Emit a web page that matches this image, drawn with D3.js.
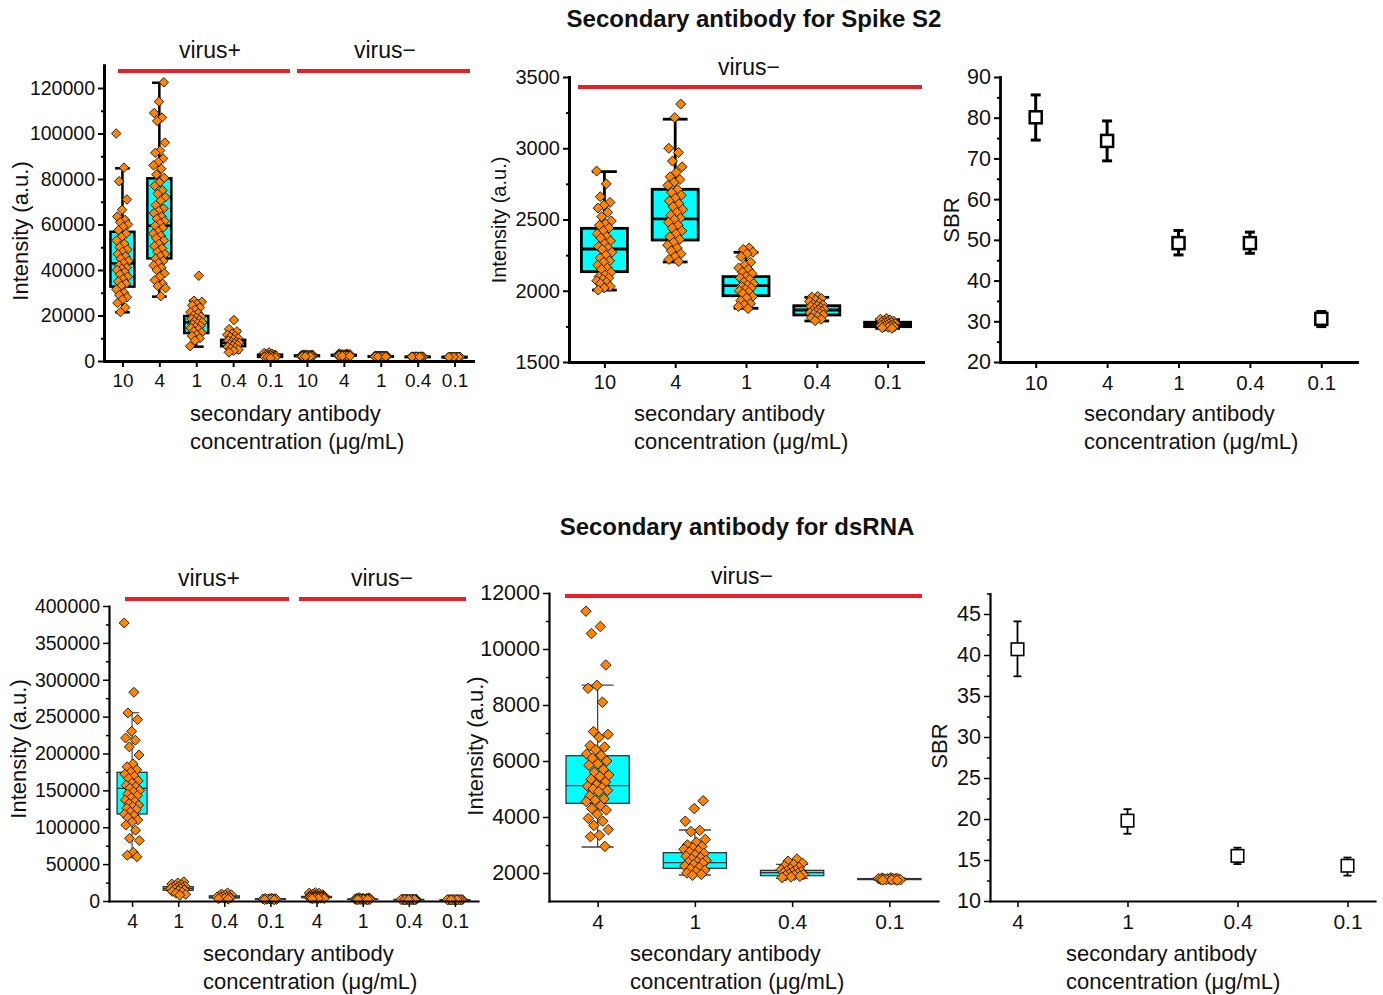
<!DOCTYPE html>
<html><head><meta charset="utf-8">
<script src="https://cdn.jsdelivr.net/npm/d3@7"></script>
<style>
body{margin:0;background:#fff}
svg{display:block}
text{font-family:"Liberation Sans",Arial,Helvetica,sans-serif;fill:#111}
</style>
</head><body>
<svg id="c" width="1383" height="995"></svg>
<script>
// ---------------- DATA ----------------
const spikeCats = ["10", "4", "1", "0.4", "0.1"];
const dsCats = ["4", "1", "0.4", "0.1"];

// Spike S2, virus+ (intensity, a.u.)
const spikePos10 = [100000, 85000, 79000, 71000, 66500, 63500, 62000, 61000, 60000, 59000, 57500, 56000, 54500, 53000, 51500, 50000, 49000, 48000, 47000, 46000, 45000, 44000, 43000, 42000, 41000, 40500, 40000, 39000, 38000, 37000, 36000, 35000, 34000, 33000, 31500, 30000, 29000, 28000, 27000, 25500, 23500, 21500];
const spikePos4 = [122500, 114000, 109000, 107000, 105500, 96000, 92500, 91500, 89000, 87500, 86000, 84500, 82000, 80500, 78500, 77000, 75000, 73500, 72000, 70500, 68500, 67000, 66000, 65000, 63500, 62500, 61500, 60500, 59500, 58500, 57000, 56000, 55000, 54000, 53000, 51500, 50500, 49500, 48000, 47000, 46000, 45000, 44000, 43000, 42000, 41000, 40000, 38500, 37000, 35500, 34000, 33000, 32000, 28500];
const spikePos1 = [37500, 26500, 26000, 25000, 24500, 23500, 22500, 21500, 21000, 20000, 19500, 19000, 18500, 18000, 17500, 17000, 16500, 16000, 15500, 15000, 14500, 14000, 13000, 12500, 11500, 11000, 10000, 9000, 6500];
const spikePos04 = [18000, 14000, 13000, 12000, 11500, 11000, 10500, 10000, 9500, 9000, 8500, 8200, 8000, 7700, 7400, 7000, 6600, 6200, 5800, 5400, 5000, 4500, 3800];
const spikePos01 = [3800, 3500, 3200, 3000, 2800, 2700, 2600, 2500, 2400, 2300, 2200, 2100, 2000, 1900, 1800, 1700, 1600, 1500, 1300];

// Spike S2, virus-
const spikeNeg10 = [2840, 2750, 2660, 2620, 2600, 2580, 2550, 2520, 2490, 2470, 2460, 2440, 2420, 2400, 2380, 2370, 2350, 2330, 2310, 2300, 2290, 2270, 2250, 2230, 2210, 2200, 2180, 2160, 2150, 2130, 2110, 2100, 2090, 2080, 2070, 2060, 2050, 2030, 2020, 2005];
const spikeNeg4 = [3310, 3215, 3000, 2970, 2910, 2870, 2830, 2800, 2780, 2760, 2740, 2710, 2690, 2670, 2650, 2630, 2610, 2590, 2570, 2550, 2530, 2510, 2500, 2480, 2460, 2440, 2420, 2400, 2380, 2360, 2340, 2320, 2300, 2280, 2260, 2240, 2220, 2205];
const spikeNeg1 = [2300, 2290, 2270, 2260, 2240, 2200, 2180, 2160, 2150, 2130, 2120, 2100, 2090, 2080, 2060, 2050, 2040, 2030, 2020, 2010, 2000, 1990, 1980, 1960, 1950, 1930, 1910, 1900, 1890, 1875];
const spikeNeg04 = [1960, 1955, 1945, 1935, 1925, 1915, 1905, 1900, 1895, 1890, 1880, 1875, 1870, 1865, 1860, 1855, 1850, 1845, 1840, 1835, 1830, 1820, 1810, 1800, 1790];
const spikeNeg01 = [1805, 1800, 1795, 1790, 1787, 1783, 1780, 1777, 1774, 1770, 1767, 1764, 1761, 1758, 1755, 1752, 1749, 1746, 1743, 1740, 1736];

// Box statistics
const spikePosQ1 = [32700, 45100, 12300, 6500, 1800];
const spikePosMed = [42900, 59500, 17000, 8000, 2200];
const spikePosQ3 = [56800, 80300, 19800, 9300, 2800];
const spikePosLo = [21400, 28300, 6300, 3800, 1300];
const spikePosHi = [84700, 122300, 26500, 13500, 3800];

const spikeNegQ1 = [2134, 2356, 1965, 1830, 1748];
const spikeNegMed = [2293, 2504, 2036, 1865, 1762];
const spikeNegQ3 = [2438, 2712, 2099, 1895, 1779];
const spikeNegLo = [2005, 2202, 1877, 1788, 1736];
const spikeNegHi = [2836, 3204, 2270, 1954, 1797];

// dsRNA, virus+
const dsPos4 = [377000, 283000, 255000, 246000, 230000, 221000, 218000, 209000, 198000, 186000, 182000, 178000, 175000, 172000, 169000, 166000, 163000, 160000, 157000, 155000, 153000, 150000, 148000, 145000, 143000, 140000, 137000, 135000, 132000, 130000, 128000, 126000, 124000, 121000, 118000, 116000, 113000, 110000, 107000, 103000, 96000, 85000, 82000, 66000, 62000, 60000];
const dsPos1 = [26000, 24500, 23000, 22000, 21000, 20000, 19500, 19000, 18000, 17500, 17000, 16500, 16000, 15000, 14000, 13000, 12000, 10500, 9000, 8000];
const dsPos04 = [11000, 9500, 8500, 8000, 7000, 6500, 6000, 5500, 5000, 4500, 4000, 3500, 3000, 2500];
const dsPos01 = [4000, 3600, 3300, 3000, 2800, 2600, 2400, 2200, 2000, 1800, 1600];

// dsRNA, virus-
const dsNeg4 = [11350, 10800, 10550, 9430, 8700, 8600, 8100, 7050, 6950, 6850, 6550, 6500, 6400, 6250, 6200, 6100, 6000, 5900, 5850, 5700, 5600, 5500, 5450, 5350, 5250, 5150, 5100, 5050, 5000, 4950, 4900, 4750, 4650, 4600, 4550, 4400, 4300, 4250, 4100, 3950, 3850, 3700, 3550, 3350, 3300, 2950];
const dsNeg1 = [4580, 4300, 3850, 3520, 3480, 3200, 3100, 3000, 2950, 2900, 2850, 2800, 2750, 2700, 2650, 2600, 2550, 2500, 2450, 2400, 2380, 2350, 2300, 2250, 2200, 2150, 2100, 2050, 2000, 1950, 1920];
const dsNeg04 = [2500, 2420, 2350, 2300, 2250, 2200, 2150, 2120, 2100, 2070, 2050, 2020, 2000, 1980, 1960, 1940, 1920, 1900, 1880, 1860, 1840];
const dsNeg01 = [1830, 1820, 1812, 1805, 1800, 1795, 1790, 1785, 1780, 1775, 1770, 1765, 1760, 1755, 1750, 1745];

const dsPosQ1 = [118000, 14500, 4000, 2000];
const dsPosMed = [152800, 17000, 5500, 2500];
const dsPosQ3 = [174500, 19500, 7000, 3000];
const dsPosLo = [58700, 9000, 2500, 1600];
const dsPosHi = [255300, 24500, 10000, 3800];

const dsNegQ1 = [4489, 2167, 1905, 1765];
const dsNegMed = [5118, 2369, 2011, 1780];
const dsNegQ3 = [6189, 2726, 2095, 1800];
const dsNegLo = [2928, 1929, 1810, 1745];
const dsNegHi = [8713, 3536, 2311, 1825];

// SBR
const spikeSBR = [80.1, 74.3, 49.2, 49.2, 30.6];
const spikeSBRLo = [74.5, 69.4, 46.3, 46.7, 28.7];
const spikeSBRHi = [85.6, 79.2, 52.3, 51.9, 32.4];
const dsSBR = [40.7, 19.8, 15.5, 14.3];
const dsSBRLo = [37.4, 18.2, 14.5, 13.1];
const dsSBRHi = [44.1, 21.2, 16.5, 15.3];

// tick values
const spikePosTicks = d3.range(0, 120001, 20000);
const spikeNegTicks = d3.range(1500, 3501, 500);
const spikeSBRTicks = d3.range(20, 91, 10);
const dsPosTicks = d3.range(0, 400001, 50000);
const dsNegTicks = d3.range(2000, 12001, 2000);
const dsSBRTicks = d3.range(10, 46, 5);

// ---------------- DRAW ----------------
const svg = d3.select("#c");
const RED = "#e8202a", CYAN = "#00ffff", ORANGE = "#ff8400";

function groupsFrom(pointsList, q1, med, q3, lo, hi) {
  return pointsList.map((pts, i) => ({pts, q1: q1[i], med: med[i], q3: q3[i], lo: lo[i], hi: hi[i]}));
}

function axes(g, x, y, p) {
  const ya = g.append("g").attr("transform", `translate(${p.xr[0]},0)`)
    .call(d3.axisLeft(y).tickValues(p.major).tickSize(6).tickPadding(3).tickSizeOuter(0).tickFormat(d3.format("d")));
  const ym = g.append("g").attr("transform", `translate(${p.xr[0]},0)`)
    .call(d3.axisLeft(y).tickValues(p.minor).tickSize(3).tickSizeOuter(0).tickFormat(""));
  ym.select(".domain").remove();
  const xa = g.append("g").attr("transform", `translate(0,${p.yr[0]})`)
    .call(d3.axisBottom(x).tickSize(6).tickPadding(7).tickSizeOuter(0).tickFormat(i => p.labels[i]));
  [ya, ym, xa].forEach(a => {
    a.selectAll(".domain").attr("stroke", "#000").attr("stroke-width", p.aw).attr("stroke-linecap", "square");
    a.selectAll(".tick line").attr("stroke", "#000").attr("stroke-width", p.tw);
  });
  ya.selectAll("text").attr("font-size", p.yfs).attr("fill", "#111");
  xa.selectAll("text").attr("font-size", p.xfs).attr("fill", "#111");
}

function jitter(j, amp) {
  return (((j * 0.6180339887) % 1) - 0.5) * 2 * amp;
}

function boxPanel(p) {
  const x = d3.scalePoint().domain(d3.range(p.labels.length)).range(p.xr).padding(p.pad);
  const y = d3.scaleLinear().domain(p.yd).range(p.yr);
  const step = x.step();
  const g = svg.append("g");
  const sym = d3.symbol(d3.symbolSquare, p.ds * p.ds / 2);
  p.groups.forEach((grp, i) => {
    const cx = x(i), bw = step * 0.65, cw = step * p.cap;
    const gg = g.append("g");
    gg.append("line").attr("x1", cx).attr("x2", cx).attr("y1", y(grp.lo)).attr("y2", y(grp.hi))
      .attr("stroke", p.wc).attr("stroke-width", p.ww);
    [grp.lo, grp.hi].forEach(v => gg.append("line").attr("x1", cx - cw / 2).attr("x2", cx + cw / 2)
      .attr("y1", y(v)).attr("y2", y(v)).attr("stroke", p.wc).attr("stroke-width", p.ww));
    gg.append("rect").attr("x", cx - bw / 2).attr("width", bw)
      .attr("y", y(grp.q3)).attr("height", Math.max(0.5, y(grp.q1) - y(grp.q3)))
      .attr("fill", CYAN).attr("stroke", p.bc).attr("stroke-width", p.bsw);
    gg.append("line").attr("x1", cx - bw / 2).attr("x2", cx + bw / 2).attr("y1", y(grp.med)).attr("y2", y(grp.med))
      .attr("stroke", p.bc).attr("stroke-width", p.msw);
    const amp = Math.max(6, step * p.jit);
    gg.selectAll("path.pt").data(grp.pts).join("path").attr("class", "pt")
      .attr("d", sym)
      .attr("transform", (d, j) => `translate(${cx + jitter(j + i * 3, amp)},${y(d)}) rotate(45)`)
      .attr("fill", ORANGE).attr("stroke", "#1a1a1a").attr("stroke-width", 0.9);
  });
  axes(g, x, y, p);
}

function sbrPanel(p) {
  const x = d3.scalePoint().domain(d3.range(p.labels.length)).range(p.xr).padding(p.pad);
  const y = d3.scaleLinear().domain(p.yd).range(p.yr);
  const g = svg.append("g");
  p.vals.forEach((v, i) => {
    const cx = x(i);
    g.append("line").attr("x1", cx).attr("x2", cx).attr("y1", y(p.lo[i])).attr("y2", y(p.hi[i]))
      .attr("stroke", "#000").attr("stroke-width", p.ew);
    [p.lo[i], p.hi[i]].forEach(e => g.append("line").attr("x1", cx - p.cw / 2).attr("x2", cx + p.cw / 2)
      .attr("y1", y(e)).attr("y2", y(e)).attr("stroke", "#000").attr("stroke-width", p.ew));
    g.append("rect").attr("x", cx - p.ms / 2).attr("y", y(v) - p.ms / 2).attr("width", p.ms).attr("height", p.ms)
      .attr("fill", "#fff").attr("stroke", "#000").attr("stroke-width", p.msw);
  });
  axes(g, x, y, p);
}

function text(str, x, y, opts = {}) {
  const t = svg.append("text").attr("x", x).attr("y", y).text(str)
    .attr("font-size", opts.fs || 22).attr("text-anchor", opts.anchor || "middle");
  if (opts.bold) t.attr("font-weight", "bold");
  if (opts.rot) t.attr("transform", `rotate(-90,${x},${y})`);
  return t;
}

function redLine(x1, x2, y) {
  svg.append("line").attr("x1", x1).attr("x2", x2).attr("y1", y).attr("y2", y)
    .attr("stroke", RED).attr("stroke-width", 4);
}

function xTitle(x, y1) {
  text("secondary antibody", x, y1, {anchor: "start"});
  text("concentration (\u03bcg/mL)", x, y1 + 28, {anchor: "start"});
}

// ---- Top row: Spike S2 ----
text("Secondary antibody for Spike S2", 754, 27, {fs: 24, bold: true});

boxPanel({
  labels: spikeCats.concat(spikeCats), xr: [104, 473], pad: 0.5,
  yd: [0, 130000], yr: [361, 65.25], major: spikePosTicks, minor: d3.range(10000, 120000, 20000),
  groups: groupsFrom([spikePos10, spikePos4, spikePos1, spikePos04, spikePos01], spikePosQ1, spikePosMed, spikePosQ3, spikePosLo, spikePosHi)
    .concat(groupsFrom([spikeNeg10, spikeNeg4, spikeNeg1, spikeNeg04, spikeNeg01], spikeNegQ1, spikeNegMed, spikeNegQ3, spikeNegLo, spikeNegHi)),
  bc: "#000", bsw: 2.5, msw: 2.5, wc: "#000", ww: 2.5, cap: 0.4, ds: 9.5, jit: 0.17,
  aw: 3, tw: 2, yfs: 19.5, xfs: 19
});
text("virus+", 210, 58, {fs: 23});
text("virus\u2212", 385, 58, {fs: 23});
redLine(118, 290, 71);
redLine(297, 470, 71);
text("Intensity (a.u.)", 28, 231, {rot: true});
xTitle(190, 421);

boxPanel({
  labels: spikeCats, xr: [569, 923], pad: 0.5,
  yd: [1500, 3500], yr: [362, 77], major: spikeNegTicks, minor: d3.range(1750, 3500, 500),
  groups: groupsFrom([spikeNeg10, spikeNeg4, spikeNeg1, spikeNeg04, spikeNeg01], spikeNegQ1, spikeNegMed, spikeNegQ3, spikeNegLo, spikeNegHi),
  bc: "#000", bsw: 2.8, msw: 2.8, wc: "#000", ww: 2.8, cap: 0.35, ds: 10, jit: 0.11,
  aw: 3, tw: 2, yfs: 20, xfs: 20
});
text("virus\u2212", 749, 75, {fs: 23});
redLine(578, 922, 87);
text("Intensity (a.u.)", 506, 220, {rot: true, fs: 20});
xTitle(634, 421);

sbrPanel({
  labels: spikeCats, xr: [1000, 1357], pad: 0.5,
  yd: [20, 90], yr: [362, 77], major: spikeSBRTicks, minor: d3.range(25, 90, 10),
  vals: spikeSBR, lo: spikeSBRLo, hi: spikeSBRHi, ew: 3, cw: 10, ms: 12, msw: 2.5,
  aw: 2.8, tw: 2, yfs: 21.5, xfs: 20.5
});
text("SBR", 959, 220, {rot: true});
xTitle(1084, 421);

// ---- Bottom row: dsRNA ----
text("Secondary antibody for dsRNA", 737, 535, {fs: 24, bold: true});

boxPanel({
  labels: dsCats.concat(dsCats), xr: [109, 478], pad: 0.5,
  yd: [0, 400000], yr: [901, 606], major: dsPosTicks, minor: d3.range(25000, 400000, 50000),
  groups: groupsFrom([dsPos4, dsPos1, dsPos04, dsPos01], dsPosQ1, dsPosMed, dsPosQ3, dsPosLo, dsPosHi)
    .concat(groupsFrom([dsNeg4, dsNeg1, dsNeg04, dsNeg01], dsNegQ1, dsNegMed, dsNegQ3, dsNegLo, dsNegHi)),
  bc: "#333", bsw: 1.3, msw: 1.3, wc: "#555", ww: 1.3, cap: 0.3, ds: 10, jit: 0.17,
  aw: 2.2, tw: 1.5, yfs: 19.5, xfs: 19.5
});
text("virus+", 209, 586, {fs: 23});
text("virus\u2212", 382, 586, {fs: 23});
redLine(125, 289, 599);
redLine(299, 466, 599);
text("Intensity (a.u.)", 26, 749, {rot: true});
xTitle(203, 961);

boxPanel({
  labels: dsCats, xr: [549, 938], pad: 0.5,
  yd: [1000, 12000], yr: [901, 593], major: dsNegTicks, minor: d3.range(3000, 12000, 2000),
  groups: groupsFrom([dsNeg4, dsNeg1, dsNeg04, dsNeg01], dsNegQ1, dsNegMed, dsNegQ3, dsNegLo, dsNegHi),
  bc: "#333", bsw: 1.3, msw: 1.3, wc: "#444", ww: 1.3, cap: 0.33, ds: 10.5, jit: 0.12,
  aw: 2.2, tw: 1.5, yfs: 21.5, xfs: 21
});
text("virus\u2212", 742, 584, {fs: 23});
redLine(565, 922, 596);
text("Intensity (a.u.)", 483, 746, {rot: true});
xTitle(630, 961);

sbrPanel({
  labels: dsCats, xr: [990, 1375], pad: 0.25,
  yd: [10, 47.5], yr: [901, 593.5], major: dsSBRTicks, minor: d3.range(12.5, 48, 5),
  vals: dsSBR, lo: dsSBRLo, hi: dsSBRHi, ew: 1.8, cw: 8, ms: 12.5, msw: 1.6,
  aw: 2.2, tw: 1.5, yfs: 21.5, xfs: 21
});
text("SBR", 947, 746, {rot: true});
xTitle(1066, 961);
</script>
</body></html>
